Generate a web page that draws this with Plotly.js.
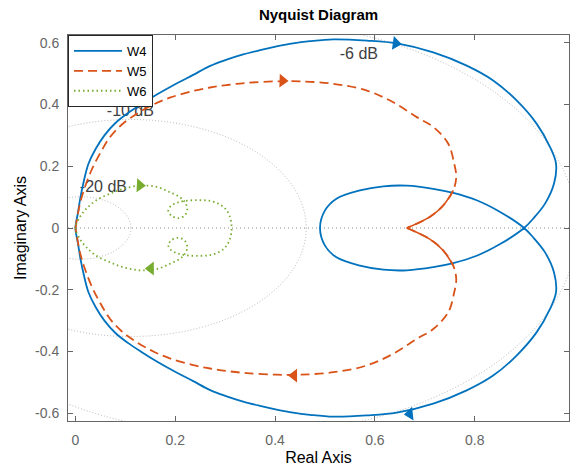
<!DOCTYPE html>
<html><head><meta charset="utf-8">
<script src="https://cdn.plot.ly/plotly-3.0.1.min.js"></script>
<style>html,body{margin:0;padding:0;background:#fff}</style>
</head><body><div id="chart" style="width:570px;height:470px"></div>
<script>
// ---- data (positive-frequency branches, omega 0 -> inf) ----
const seriesNames = ['W4', 'W5', 'W6'];

const w4Re = [0.490,0.500,0.523,0.570,0.617,0.664,0.717,0.757,0.804,0.851,0.899,
  0.917,0.941,0.959,0.963,0.951,0.924,0.884,0.837,0.784,0.717,0.644,0.584,0.517,0.470,
  0.436,0.403,0.370,0.336,0.303,0.270,0.236,0.197,0.163,0.133,0.105,0.080,0.058,0.040,0.026,0.017,0.010,0.005,0.000];
const w4Im = [0.000,0.057,0.095,0.122,0.135,0.137,0.127,0.114,0.090,0.052,0.000,
  -0.030,-0.079,-0.144,-0.208,-0.262,-0.338,-0.413,-0.478,-0.526,-0.569,-0.598,-0.607,-0.611,-0.605,
  -0.598,-0.588,-0.576,-0.562,-0.545,-0.525,-0.496,-0.463,-0.432,-0.402,-0.372,-0.340,-0.300,-0.255,-0.208,-0.154,-0.100,-0.050,0.000];

const w5Re = [0.664,0.710,0.737,0.757,0.763,0.759,0.747,0.717,0.684,0.637,0.584,0.517,
  0.450,0.403,0.343,0.303,0.270,0.236,0.189,0.156,0.123,0.093,0.069,0.049,0.032,0.019,0.009,0.000];
const w5Im = [0.000,-0.036,-0.073,-0.122,-0.165,-0.208,-0.273,-0.327,-0.359,-0.407,-0.445,-0.467,
  -0.475,-0.475,-0.470,-0.463,-0.455,-0.444,-0.422,-0.400,-0.370,-0.335,-0.294,-0.241,-0.187,-0.133,-0.079,0.000];

const w6Re = [0.313,0.309,0.300,0.287,0.270,0.249,0.226,0.206,0.191,0.186,0.193,0.206,
  0.219,0.224,0.219,0.209,0.189,0.163,0.129,0.096,0.069,0.042,0.022,0.009,0.000];
const w6Im = [0.000,-0.038,-0.063,-0.078,-0.088,-0.090,-0.089,-0.083,-0.071,-0.055,-0.039,-0.032,
  -0.041,-0.063,-0.084,-0.100,-0.116,-0.133,-0.137,-0.127,-0.111,-0.090,-0.063,-0.036,0.000];

// direction arrows (positions)
const w4ArrowRe = [0.642, 0.670];
const w4ArrowIm = [0.598, -0.602];
const w5ArrowRe = [0.415, 0.438];
const w5ArrowIm = [0.477, -0.478];
const w6ArrowRe = [0.129, 0.151];
const w6ArrowIm = [0.138, -0.131];

// grid (constant closed-loop magnitude circles)
const gridDb = [-6, -10, -20];
const gridLabels = ['-6 dB', '-10 dB', '-20 dB'];
const gridLabelRe = [0.568, 0.110, 0.056];
const gridLabelIm = [0.559, 0.377, 0.131];

const xTicks = [0, 0.2, 0.4, 0.6, 0.8];
const xTickText = ['0', '0.2', '0.4', '0.6', '0.8'];
const yTicks = [-0.6, -0.4, -0.2, 0, 0.2, 0.4, 0.6];
const yTickText = ['-0.6', '-0.4', '-0.2', '0', '0.2', '0.4', '0.6'];

// ---- build ----
const FONT = 'Liberation Sans, Arial, Helvetica, sans-serif';
const colors = ['#0072BD', '#D95319', '#77AC30'];

function fullPath(re, im, split) {
  // negative-frequency branch = mirror image, traversed in reverse
  const nx = re.slice().reverse();
  const ny = im.slice().reverse().map(v => -v);
  if (split) {
    return {x: nx.concat([null], re), y: ny.concat([null], im)};
  }
  return {x: nx.slice(0, -1).concat(re), y: ny.slice(0, -1).concat(im)};
}

const p4 = fullPath(w4Re, w4Im, false);
const p5 = fullPath(w5Re, w5Im, true);
const p6 = fullPath(w6Re, w6Im, false);
const cusp5 = fullPath(w5Re.slice(0, 4), w5Im.slice(0, 4), true);

const traces = [
  {x: gridLabelRe, y: gridLabelIm, text: gridLabels, mode: 'text', type: 'scatter',
   textposition: 'middle center', textfont: {family: FONT, size: 16, color: '#404040'},
   showlegend: false, hoverinfo: 'skip', cliponaxis: false},
  {x: p4.x, y: p4.y, name: seriesNames[0], mode: 'lines', type: 'scatter',
   line: {color: colors[0], width: 1.8, shape: 'spline', smoothing: 1}},
  {x: p5.x, y: p5.y, name: seriesNames[1], mode: 'lines', type: 'scatter', connectgaps: false,
   line: {color: colors[1], width: 1.8, dash: '9px,5px', shape: 'spline', smoothing: 1}},
  {x: cusp5.x, y: cusp5.y, mode: 'lines', type: 'scatter', connectgaps: false, showlegend: false,
   line: {color: colors[1], width: 1.6, shape: 'spline', smoothing: 1}, hoverinfo: 'skip'},
  {x: p6.x, y: p6.y, name: seriesNames[2], mode: 'lines', type: 'scatter',
   line: {color: colors[2], width: 1.8, dash: '1.5px,3px', shape: 'spline', smoothing: 1}},
  {x: w4ArrowRe, y: w4ArrowIm, mode: 'markers', type: 'scatter', showlegend: false, hoverinfo: 'skip',
   marker: {symbol: 'triangle-right', size: 12, color: colors[0], angle: [8, 174]}},
  {x: w5ArrowRe, y: w5ArrowIm, mode: 'markers', type: 'scatter', showlegend: false, hoverinfo: 'skip',
   marker: {symbol: 'triangle-right', size: 12, color: colors[1], angle: [2, 180]}},
  {x: w6ArrowRe, y: w6ArrowIm, mode: 'markers', type: 'scatter', showlegend: false, hoverinfo: 'skip',
   marker: {symbol: 'triangle-right', size: 12, color: colors[2], angle: [3, 180]}}
];

const shapes = gridDb.map(db => {
  const m = Math.pow(10, db / 20);
  const c = m * m / (1 - m * m), r = m / (1 - m * m);
  return {type: 'circle', xref: 'x', yref: 'y', x0: c - r, x1: c + r, y0: -r, y1: r,
          layer: 'below', line: {color: '#a3a3a3', width: 0.8, dash: '1px,2px'}};
});
shapes.push({type: 'line', xref: 'paper', x0: 0, x1: 1, yref: 'y', y0: 0, y1: 0,
             layer: 'below', line: {color: '#8a8a8a', width: 1, dash: '1px,3px'}});

const axisCommon = {
  showline: true, mirror: 'ticks', linecolor: '#666', linewidth: 1,
  ticks: 'inside', ticklen: 5, tickwidth: 1, tickcolor: '#666',
  showgrid: false, zeroline: false, tickmode: 'array',
  tickfont: {family: FONT, size: 14, color: '#666'}
};

const layout = {
  width: 570, height: 470,
  margin: {l: 68, r: 1, t: 35, b: 49},
  paper_bgcolor: '#fff', plot_bgcolor: '#fff',
  font: {family: FONT},
  title: {text: 'Nyquist Diagram', font: {family: FONT, size: 15, color: '#000', weight: 'bold'},
          x: 0.5, xref: 'paper', xanchor: 'center', y: 1 - 15 / 470, yref: 'container', yanchor: 'middle'},
  xaxis: Object.assign({}, axisCommon, {
    range: [-0.015, 0.989], tickvals: xTicks, ticktext: xTickText, ticklabelstandoff: 6,
    title: {text: 'Real Axis', font: {family: FONT, size: 16, color: '#000'}, standoff: 5}
  }),
  yaxis: Object.assign({}, axisCommon, {
    range: [-0.625, 0.625], tickvals: yTicks, ticktext: yTickText, ticklabelstandoff: 5,
    title: {text: 'Imaginary Axis', font: {family: FONT, size: 16, color: '#000'}, standoff: 4}
  }),
  showlegend: true,
  legend: {x: 0, y: 1, xanchor: 'left', yanchor: 'top', bgcolor: '#fff',
           bordercolor: '#262626', borderwidth: 1, itemwidth: 48,
           font: {family: FONT, size: 13, color: '#000'}},
  shapes: shapes
};

Plotly.newPlot('chart', traces, layout, {displayModeBar: false, staticPlot: true});
</script>
</body></html>
